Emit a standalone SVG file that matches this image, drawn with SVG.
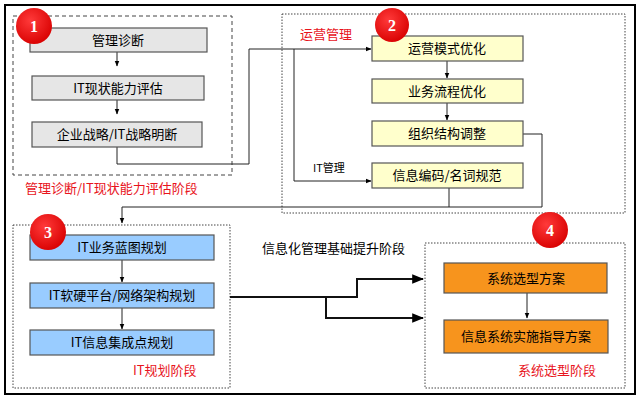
<svg xmlns="http://www.w3.org/2000/svg" width="640" height="400" viewBox="0 0 640 400">
<defs>
<marker id="a" viewBox="0 0 10 10" refX="9" refY="5" markerWidth="6" markerHeight="6" orient="auto"><path d="M0,1 L10,5 L0,9z" fill="#000"/></marker>
<radialGradient id="r" cx="0.4" cy="0.35" r="0.7"><stop offset="0" stop-color="#ff3a3a"/><stop offset="1" stop-color="#d80000"/></radialGradient>
</defs>
<style>
text{font-family:"Noto Sans CJK SC","Liberation Sans",sans-serif;}
.n{stroke:#555;stroke-width:1.2;}
.g{fill:#e6e6e6}.y{fill:#ffffcc}.b{fill:#99ccff}.o{fill:#f7941d}
.t{font-size:13px;text-anchor:middle;fill:#000}
.red{font-size:13px;fill:#e8141c}
.num{font-size:16px;font-weight:bold;fill:#fff;text-anchor:middle;font-family:"Liberation Serif",serif}
.c{fill:none;stroke:#222;stroke-width:1}
.c2{fill:none;stroke:#111;stroke-width:2}
.box{fill:none;stroke:#444;stroke-width:1}
</style>
<rect x="5" y="5" width="630" height="389" fill="#fff" stroke="#000" stroke-width="2"/>
<rect class="box" x="13" y="16" width="219" height="159" stroke-dasharray="4,3"/>
<rect class="box" x="282" y="14" width="343" height="199" stroke-dasharray="1.5,1.5"/>
<rect class="box" x="13" y="225" width="217" height="163" stroke-dasharray="1.5,1.5"/>
<rect class="box" x="425" y="243" width="200" height="145" stroke-dasharray="1.5,1.5"/>
<g id="connectors">
<path class="c" d="M117,52V66" marker-end="url(#a)"/>
<path class="c" d="M117,100V114" marker-end="url(#a)"/>
<path class="c" d="M117,147V164H249V49H371" marker-end="url(#a)"/>
<path class="c" d="M294,49V181H371" marker-end="url(#a)"/>
<path class="c" d="M447,61V78" marker-end="url(#a)"/>
<path class="c" d="M447,103V120" marker-end="url(#a)"/>
<path class="c" d="M523,134H542V207H122V223" marker-end="url(#a)"/>
<path class="c" d="M449,188V207"/>
<path class="c" d="M122,260V282" marker-end="url(#a)"/>
<path class="c" d="M122,308V329" marker-end="url(#a)"/>
<path class="c2" d="M230,297H357V279H423" marker-end="url(#a)"/>
<path class="c2" d="M326,297V318H423" marker-end="url(#a)"/>
<path class="c" d="M527,293V318" marker-end="url(#a)"/>
</g>
<g id="n1"><rect class="n g" x="30" y="28" width="177" height="24"/><text class="t" x="118" y="45">管理诊断</text></g>
<g id="n2"><rect class="n g" x="32" y="76" width="172" height="24"/><text class="t" x="118" y="93">IT现状能力评估</text></g>
<g id="n3"><rect class="n g" x="32" y="122" width="170" height="25"/><text class="t" x="117" y="139">企业战略/IT战略明断</text></g>
<g id="n4"><rect class="n y" x="372" y="36" width="151" height="25"/><text class="t" x="447" y="53">运营模式优化</text></g>
<g id="n5"><rect class="n y" x="372" y="79" width="151" height="24"/><text class="t" x="447" y="96">业务流程优化</text></g>
<g id="n6"><rect class="n y" x="372" y="121" width="151" height="25"/><text class="t" x="447" y="138">组织结构调整</text></g>
<g id="n7"><rect class="n y" x="372" y="163" width="151" height="25"/><text class="t" x="447" y="180">信息编码/名词规范</text></g>
<g id="n8"><rect class="n b" x="30" y="235" width="184" height="25"/><text class="t" x="122" y="252">IT业务蓝图规划</text></g>
<g id="n9"><rect class="n b" x="30" y="283" width="184" height="25"/><text class="t" x="122" y="300">IT软硬平台/网络架构规划</text></g>
<g id="n10"><rect class="n b" x="30" y="330" width="184" height="25"/><text class="t" x="122" y="347">IT信息集成点规划</text></g>
<g id="n11"><rect class="n o" x="444" y="263" width="163" height="30"/><text class="t" x="526" y="283">系统选型方案</text></g>
<g id="n12"><rect class="n o" x="444" y="320" width="164" height="33"/><text class="t" x="526" y="341">信息系统实施指导方案</text></g>
<g id="badges">
<circle cx="34" cy="26" r="18" fill="url(#r)"/><text class="num" x="34" y="32">1</text>
<circle cx="392" cy="25" r="17" fill="url(#r)"/><text class="num" x="392" y="31">2</text>
<circle cx="48" cy="232" r="18" fill="url(#r)"/><text class="num" x="48" y="238">3</text>
<circle cx="550" cy="230" r="18" fill="url(#r)"/><text class="num" x="550" y="236">4</text>
</g>
<text class="red" x="25" y="193">管理诊断/IT现状能力评估阶段</text>
<text class="red" x="300" y="39">运营管理</text>
<text x="313" y="172" font-size="11" fill="#000">IT管理</text>
<text class="red" x="133" y="375">IT规划阶段</text>
<text class="red" x="518" y="375">系统选型阶段</text>
<text x="262" y="253" font-size="13" fill="#000">信息化管理基础提升阶段</text>
</svg>
